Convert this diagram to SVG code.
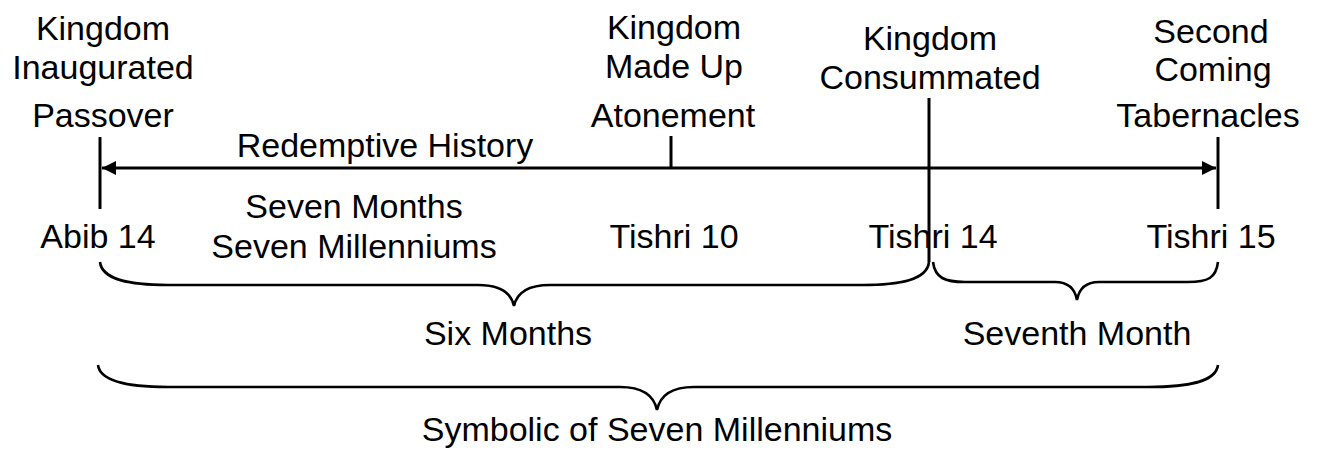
<svg xmlns="http://www.w3.org/2000/svg" width="1321" height="453" viewBox="0 0 1321 453">
<style>
text{font-family:"Liberation Sans",Arial,sans-serif;font-size:34px;fill:#000;text-anchor:middle}
.ln{stroke:#000;stroke-width:3;fill:none}
.br{stroke:#000;stroke-width:2.6;fill:none}
</style>
<defs>
<marker id="ah" viewBox="0 0 14 14" refX="14" refY="7" markerWidth="14" markerHeight="14" markerUnits="userSpaceOnUse" orient="auto-start-reverse">
<path d="M0,0 L14,7 L0,14 Z" fill="#000"/>
</marker>
</defs>
<g id="connectors">
<line class="ln" x1="102" y1="168" x2="1216" y2="168" stroke-width="2.6" marker-start="url(#ah)" marker-end="url(#ah)"/>
<line class="ln" x1="100" y1="137" x2="100" y2="209"/>
<line class="ln" x1="1218" y1="137" x2="1218" y2="209"/>
<line class="ln" x1="671" y1="136" x2="671" y2="168"/>
<line class="ln" x1="929" y1="98" x2="929" y2="262"/>
<path class="br" d="M100,262 C102,280 130,285 168,285 L478,285 C500,285 511,292 514,306 C517,292 528,285 550,285 L862,285 C900,285 927,280 929,262"/>
<path class="br" d="M933,262 C935,278 945,282 965,282 L1055,282 C1068,282 1075,289 1077,300 C1079,289 1086,282 1099,282 L1188,282 C1208,282 1216,278 1218,262"/>
<path class="br" d="M98,365 C100,382 130,387 168,387 L620,387 C643,387 654,396 657,410 C660,396 671,387 694,387 L1148,387 C1188,387 1216,382 1218,365"/>
</g>
<g id="passover">
<text x="103" y="40">Kingdom</text>
<text x="103" y="79">Inaugurated</text>
<text x="103" y="127">Passover</text>
</g>
<g id="atonement">
<text x="674" y="39">Kingdom</text>
<text x="674" y="78">Made Up</text>
<text x="673" y="127">Atonement</text>
</g>
<g id="consummated">
<text x="930" y="50">Kingdom</text>
<text x="930" y="89">Consummated</text>
</g>
<g id="tabernacles">
<text x="1211" y="43">Second</text>
<text x="1213" y="81">Coming</text>
<text x="1208" y="127">Tabernacles</text>
</g>
<g id="redemptive-history">
<text x="385" y="157">Redemptive History</text>
</g>
<g id="seven-months">
<text x="354" y="218">Seven Months</text>
<text x="354" y="258">Seven Millenniums</text>
</g>
<g id="abib14"><text x="98" y="248">Abib 14</text></g>
<g id="tishri10"><text x="674" y="248">Tishri 10</text></g>
<g id="tishri14"><text x="933" y="248">Tishri 14</text></g>
<g id="tishri15"><text x="1211" y="248">Tishri 15</text></g>
<g id="six-months"><text x="508" y="345">Six Months</text></g>
<g id="seventh-month"><text x="1077" y="345">Seventh Month</text></g>
<g id="symbolic"><text x="657" y="441">Symbolic of Seven Millenniums</text></g>
</svg>
